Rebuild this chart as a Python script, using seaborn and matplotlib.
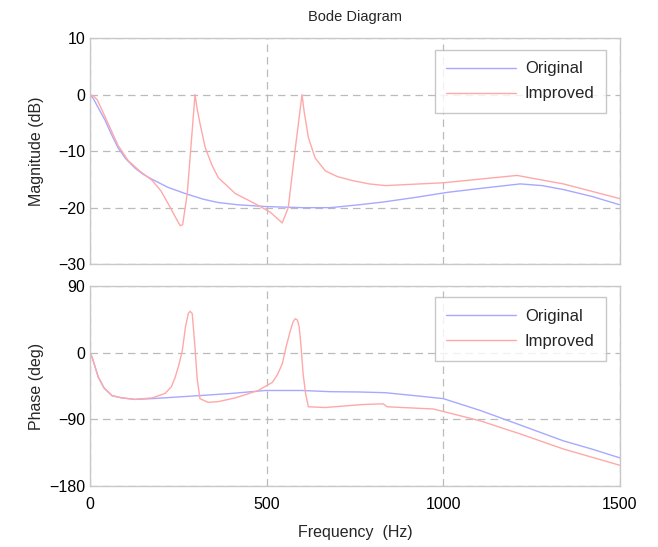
import numpy as np
import pandas as pd
import matplotlib
matplotlib.use("Agg")
import matplotlib.pyplot as plt
import seaborn as sns

# ---- data ----
mag_orig_f = [0, 10, 20, 42, 60, 79, 100, 127, 150, 176, 220, 269, 320, 363, 420, 496, 600, 680,
              760, 830, 920, 1011, 1105, 1218, 1280, 1340, 1420, 1500]
mag_orig_db = [0, -0.8, -2.0, -4.5, -7.0, -9.4, -11.3, -13.0, -14.1, -15.0, -16.4, -17.5, -18.5, -19.1,
               -19.5, -19.8, -20.0, -20.0, -19.5, -19.0, -18.2, -17.3, -16.6, -15.8, -16.1, -16.8, -18.0, -19.5]

mag_impr_f = [0, 10, 20, 50, 79, 108, 140, 176, 200, 221, 240, 255, 262, 275, 297, 303, 311, 326, 345,
              363, 411, 467, 510, 544, 561, 580, 600, 606, 618, 637, 666, 700, 742, 790, 836, 1000,
              1209, 1340, 1500]
mag_impr_db = [0, -0.3, -0.9, -5.0, -9.0, -11.7, -13.5, -15.2, -17.0, -19.3, -21.5, -23.2, -23.0, -17.5,
               0, -2.5, -5.1, -9.4, -12.5, -14.7, -17.5, -19.3, -20.8, -22.7, -20.0, -10.0, 0, -3.0,
               -7.6, -11.2, -13.5, -14.5, -15.2, -15.8, -16.1, -15.6, -14.3, -15.8, -18.4]

ph_orig_f = [0, 6, 23, 40, 62, 90, 127, 176, 240, 306, 400, 496, 600, 680, 760, 836, 920, 1000, 1105,
             1220, 1340, 1420, 1500]
ph_orig_deg = [0, -6.7, -33, -48, -58, -61, -63, -62, -60, -58, -55, -51, -51, -52.6, -53, -54, -58,
               -62, -78, -98, -119, -130, -142]

ph_impr_f = [0, 6, 23, 40, 62, 90, 127, 176, 212, 230, 241, 252, 261, 270, 278, 283, 289, 293, 297,
             303, 311, 334, 363, 411, 476, 516, 530, 544, 556, 567, 575, 581, 587, 592, 597, 603, 610,
             618, 666, 770, 830, 841, 972, 1105, 1220, 1340, 1500]
ph_impr_deg = [0, -6.7, -33, -48, -58, -61, -63, -61, -55, -46, -33, -15, 3, 35, 53, 56, 53, 30, 7,
               -35, -62, -67, -66, -61, -51, -40, -30, -15, 10, 30, 42, 46, 44, 35, 10, -28, -55,
               -73, -74, -70, -69, -73, -76, -92, -110, -130, -152]

series_names = ["Original", "Improved"]
mag_yticks = [10, 0, -10, -20, -30]
ph_yticks = [90, 0, -90, -180]
x_ticks = [0, 500, 1000, 1500]

# ---- style ----
sns.set_style("white")
plt.rcParams['font.family'] = ['Liberation Sans', 'DejaVu Sans']

blue = "#a8a8ff"
red = "#ffa8a8"
palette = {series_names[0]: blue, series_names[1]: red}

fig = plt.figure(figsize=(6.58, 5.47), dpi=100)
ax1 = fig.add_axes([0.137, 0.517, 0.805, 0.4135])
ax2 = fig.add_axes([0.137, 0.1115, 0.805, 0.3655])

mag_df = pd.concat([
    pd.DataFrame({"f": mag_orig_f, "v": mag_orig_db, "s": series_names[0]}),
    pd.DataFrame({"f": mag_impr_f, "v": mag_impr_db, "s": series_names[1]}),
])
ph_df = pd.concat([
    pd.DataFrame({"f": ph_orig_f, "v": ph_orig_deg, "s": series_names[0]}),
    pd.DataFrame({"f": ph_impr_f, "v": ph_impr_deg, "s": series_names[1]}),
])

for ax, df, yt, ylab in [(ax1, mag_df, mag_yticks, "Magnitude (dB)"),
                         (ax2, ph_df, ph_yticks, "Phase (deg)")]:
    sns.lineplot(data=df, x="f", y="v", hue="s", palette=palette, ax=ax,
                 linewidth=1.0, sort=False, estimator=None)
    ax.set_xlim(0, 1500)
    ax.set_ylim(min(yt), max(yt))
    ax.set_yticks(yt)
    ax.set_xticks(x_ticks)
    ax.grid(True, linestyle=(0, (6, 4)), color="#bbbbbb", linewidth=0.9)
    for sp in ax.spines.values():
        sp.set_color("#c8c8c8")
        sp.set_linewidth(1.0)
    ax.tick_params(axis="both", direction="in", length=3, color="#c8c8c8",
                   labelsize=11.5, labelcolor="black")
    ax.tick_params(axis="x", pad=8)
    ax.set_ylabel(ylab, fontsize=11.5)
    ax.yaxis.set_label_coords(-0.088, 0.5)
    leg = ax.legend(loc="upper right", fontsize=12, frameon=True, fancybox=False,
                    handlelength=4.2, borderpad=0.7, labelspacing=0.6, handletextpad=0.5,
                    bbox_to_anchor=(0.99, 0.985))
    leg.get_frame().set_edgecolor("#bbbbbb")
    leg.get_frame().set_linewidth(1.0)
    for ln in leg.get_lines():
        ln.set_linewidth(1.0)

ax1.set_xlabel("")
ax1.set_xticklabels([])
ax1.set_title("Bode Diagram", fontsize=10.5, pad=12)
ax2.set_xlabel("Frequency  (Hz)", fontsize=11.5, labelpad=9)

fig.savefig("out.png", dpi=100)
